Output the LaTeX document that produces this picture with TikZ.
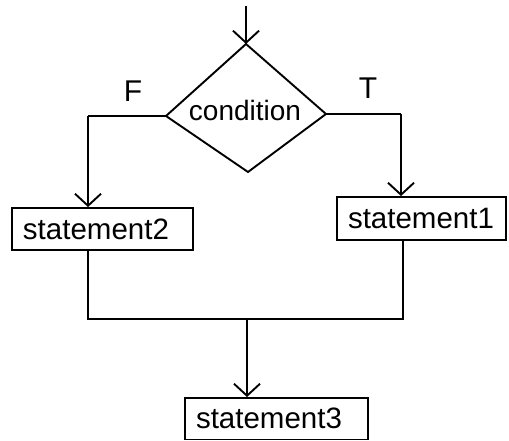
\documentclass[tikz,border=0pt]{standalone}
\usepackage{fontspec}
\setmainfont{Liberation Sans}
\usetikzlibrary{arrows.meta}
\begin{document}
\begin{tikzpicture}[x=1pt,y=-1pt,
  line width=1.9pt,
  every node/.style={font=\fontsize{29.5}{34}\selectfont},
  arr/.style={-{Straight Barb[length=12pt,width=26pt]}},
  stmt/.style={draw,rectangle,inner xsep=11pt,inner ysep=0pt,align=left}]
\useasboundingbox (0,0) rectangle (509,441);

% decision diamond
\coordinate (dt) at (246,44);
\coordinate (dl) at (166,116);
\coordinate (dr) at (326,114);
\coordinate (db) at (248,172);
\draw[line join=miter] (dt) -- (dr) -- (db) -- (dl) -- cycle;
\node[font=\fontsize{28}{32}\selectfont] (cond) at (245,110.5) {condition};

% statement boxes
\node[stmt,text width=159pt,minimum height=42pt] (s2) at (102.5,229) {\mbox{statement2}};
\node[stmt,text width=147pt,minimum height=43pt] (s1) at (421.5,218.5) {\mbox{statement1}};
\node[stmt,text width=161pt,minimum height=41.5pt] (s3) at (276.5,418.75) {\mbox{statement3}};

% branch labels
\node[font=\fontsize{30}{34}\selectfont] (lf) at (133,91) {F};
\node[font=\fontsize{30}{34}\selectfont] (lt) at (368,88) {T};

% routing points
\coordinate (entry) at (246,6);
\coordinate (fl) at (88,116);
\coordinate (tr) at (401,114);
\coordinate (ml) at (88,319);
\coordinate (mr) at (403,319);
\coordinate (mm) at (247,319);

% connectors
\draw[arr] (entry) -- (dt);
\draw (dl) -- (fl);
\draw[arr] (fl) -- (fl |- s2.north);
\draw (dr) -- (tr);
\draw[arr] (tr) -- (tr |- s1.north);
\draw (ml |- s2.south) -- (ml) -- (mr) -- (mr |- s1.south);
\draw[arr] (mm) -- (mm |- s3.north);
\end{tikzpicture}
\end{document}
